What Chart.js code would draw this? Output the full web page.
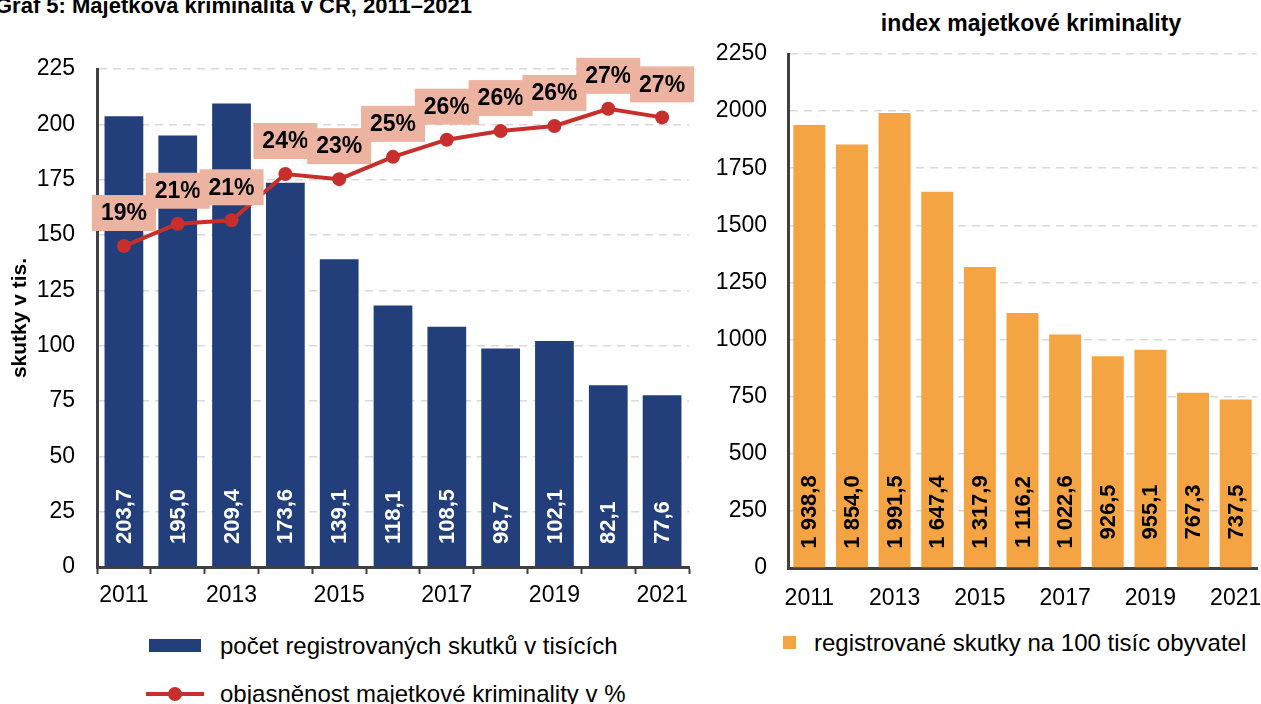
<!DOCTYPE html>
<html lang="cs">
<head>
<meta charset="utf-8">
<script src="https://cdn.jsdelivr.net/npm/chart.js"></script>
<style>
  body { margin: 0; background: #fff; width: 1261px; height: 704px; overflow: hidden; position: relative;
         font-family: 'Liberation Sans', Arial, sans-serif; color: #000; }
  canvas { position: absolute; top: 0; }
  #c1 { left: 0; }
  #c2 { left: 700px; }
  .ttl { position: absolute; font-weight: bold; white-space: nowrap; }
  .lg { position: absolute; font-size: 24px; line-height: 28px; white-space: nowrap; }
  .sw { position: absolute; }
</style>
</head>
<body>
<div class="ttl" style="left:-5px; top:-7px; font-size:22px;">Graf 5: Majetková kriminalita v ČR, 2011–2021</div>
<div class="ttl" style="left:0; width:2062px; top:10px; font-size:23px; text-align:center;">index majetkové kriminality</div>

<canvas id="c1" width="700" height="620"></canvas>
<canvas id="c2" width="561" height="620"></canvas>

<!-- legendy -->
<div class="sw" style="left:149px; top:639px; width:52px; height:13px; background:#223F7C;"></div>
<div class="lg" style="left:220px; top:632px;">počet registrovaných skutků v tisících</div>
<svg class="sw" style="left:146px; top:687px;" width="58" height="14">
  <line x1="0" y1="7" x2="58" y2="7" stroke="#C62F2B" stroke-width="4"/>
  <circle cx="29" cy="7" r="7" fill="#C62F2B"/>
</svg>
<div class="lg" style="left:220px; top:680px;">objasněnost majetkové kriminality v %</div>
<div class="sw" style="left:783px; top:636px; width:13px; height:13px; background:#F5A443;"></div>
<div class="lg" style="left:814px; top:629px;">registrované skutky na 100 tisíc obyvatel</div>

<script>
// ---------- data ----------
const years = ['2011', '2012', '2013', '2014', '2015', '2016', '2017', '2018', '2019', '2020', '2021'];
// počet registrovaných skutků (tis.)
const skutky = [203.7, 195.0, 209.4, 173.6, 139.1, 118.1, 108.5, 98.7, 102.1, 82.1, 77.6];
// objasněnost v % (odhad z grafu)
const objasnenost = [19.4, 20.7, 20.9, 23.6, 23.3, 24.6, 25.6, 26.1, 26.4, 27.4, 26.9];
// registrované skutky na 100 tis. obyvatel
const index100k = [1938.8, 1854.0, 1991.5, 1647.4, 1317.9, 1116.2, 1022.6, 926.5, 955.1, 767.3, 737.5];

const NAVY = '#223F7C';
const RED = '#C62F2B';
const PINK = '#ECB3A0';
const ORANGE = '#F5A443';
const GRID = '#D9D9D9';
const AXIS = '#404040';
const FONT = "'Liberation Sans', Arial, sans-serif";

Chart.defaults.font.family = FONT;
Chart.defaults.color = '#000';

// ---------- formátování ----------
const fmt1 = v => v.toFixed(1).replace('.', ',');
const fmtThousands = v => {
  const [i, d] = v.toFixed(1).split('.');
  return i.replace(/\B(?=(\d{3})+(?!\d))/g, ' ') + ',' + d;
};
const everyOther = (v, i) => (i % 2 === 0 ? years[i] : '');
// popisky osy x nesmí zmenšovat plochu grafu
const noSidePad = s => { s.paddingLeft = 0; s.paddingRight = 0; };

// ---------- popisky hodnot (bez datalabels pluginu) ----------
const leftLabels = {
  id: 'leftLabels',
  afterDatasetsDraw(chart) {
    const ctx = chart.ctx;
    const y0 = chart.scales.y.getPixelForValue(0);

    // hodnoty ve sloupcích
    ctx.save();
    ctx.font = 'bold 22px ' + FONT;
    ctx.fillStyle = '#fff';
    chart.getDatasetMeta(0).data.forEach((bar, i) => {
      ctx.save();
      ctx.translate(bar.x + 1, y0 - 23);
      ctx.rotate(-Math.PI / 2);
      ctx.textAlign = 'left';
      ctx.textBaseline = 'middle';
      ctx.fillText(fmt1(skutky[i]), 0, 0);
      ctx.restore();
    });
    ctx.restore();

    // procenta v růžových rámečcích
    ctx.save();
    ctx.font = 'bold 23px ' + FONT;
    ctx.textAlign = 'center';
    ctx.textBaseline = 'middle';
    chart.getDatasetMeta(1).data.forEach((pt, i) => {
      const txt = Math.round(objasnenost[i]) + '%';
      const w = ctx.measureText(txt).width + 18;
      const h = 36;
      const top = pt.y - 15 - h;
      ctx.fillStyle = PINK;
      ctx.fillRect(pt.x - w / 2, top, w, h);
      ctx.fillStyle = '#000';
      ctx.fillText(txt, pt.x, top + h / 2 + 1);
    });
    ctx.restore();
  }
};

const rightLabels = {
  id: 'rightLabels',
  afterDatasetsDraw(chart) {
    const ctx = chart.ctx;
    const y0 = chart.scales.y.getPixelForValue(0);
    ctx.save();
    ctx.font = 'bold 22px ' + FONT;
    ctx.fillStyle = '#000';
    chart.getDatasetMeta(0).data.forEach((bar, i) => {
      ctx.save();
      ctx.translate(bar.x + 1, y0 - 56);
      ctx.rotate(-Math.PI / 2);
      ctx.textAlign = 'center';
      ctx.textBaseline = 'middle';
      ctx.fillText(fmtThousands(index100k[i]), 0, 0);
      ctx.restore();
    });
    ctx.restore();
  }
};

// ---------- levý graf ----------
new Chart(document.getElementById('c1'), {
  data: {
    labels: years,
    datasets: [
      { type: 'bar', data: skutky, backgroundColor: NAVY, barPercentage: 0.72, categoryPercentage: 1, order: 2, yAxisID: 'y' },
      { type: 'line', data: objasnenost, borderColor: RED, backgroundColor: RED, borderWidth: 4,
        pointRadius: 7, pointBorderWidth: 0, pointBackgroundColor: RED, tension: 0, order: 1, yAxisID: 'y2' }
    ]
  },
  options: {
    responsive: false,
    animation: false,
    devicePixelRatio: 1,
    layout: { padding: { left: 0, right: 11, top: 69, bottom: 0 } },
    plugins: { legend: { display: false }, tooltip: { enabled: false } },
    scales: {
      x: {
        grid: { drawOnChartArea: false, drawTicks: true, tickLength: 7, tickColor: AXIS, tickWidth: 2 },
        border: { color: AXIS, width: 3 },
        ticks: { autoSkip: false, maxRotation: 0, padding: 8, font: { size: 23 }, callback: everyOther },
        afterFit(s) { s.height = 53; noSidePad(s); }
      },
      y: {
        min: 0, max: 225,
        ticks: { stepSize: 25, padding: 22, font: { size: 23 } },
        grid: { color: GRID, lineWidth: 1.5, drawTicks: false },
        border: { color: AXIS, width: 3, dash: [8, 6] },
        title: { display: true, text: 'skutky v tis.', font: { size: 21, weight: 'bold' }, padding: { top: 8, bottom: 0 } },
        afterFit(s) { s.width = 97; }
      },
      // skrytá osa pro procenta
      y2: { display: false, min: 0.69, max: 29.72 }
    }
  },
  plugins: [leftLabels]
});

// ---------- pravý graf ----------
new Chart(document.getElementById('c2'), {
  type: 'bar',
  data: {
    labels: years,
    datasets: [{ data: index100k, backgroundColor: ORANGE, barPercentage: 0.75, categoryPercentage: 1 }]
  },
  options: {
    responsive: false,
    animation: false,
    devicePixelRatio: 1,
    layout: { padding: { left: 0, right: 4, top: 54, bottom: 0 } },
    plugins: { legend: { display: false }, tooltip: { enabled: false } },
    scales: {
      x: {
        grid: { display: false },
        border: { color: AXIS, width: 3 },
        ticks: { autoSkip: false, maxRotation: 0, padding: 9, font: { size: 23 }, callback: everyOther },
        afterFit(s) { s.height = 52; noSidePad(s); }
      },
      y: {
        min: 0, max: 2250,
        ticks: { stepSize: 250, padding: 21, font: { size: 23 }, callback: v => String(v) },
        grid: { color: GRID, lineWidth: 1.5, drawTicks: false },
        border: { color: AXIS, width: 3, dash: [8, 6] },
        afterFit(s) { s.width = 88; }
      }
    }
  },
  plugins: [rightLabels]
});
</script>
</body>
</html>
